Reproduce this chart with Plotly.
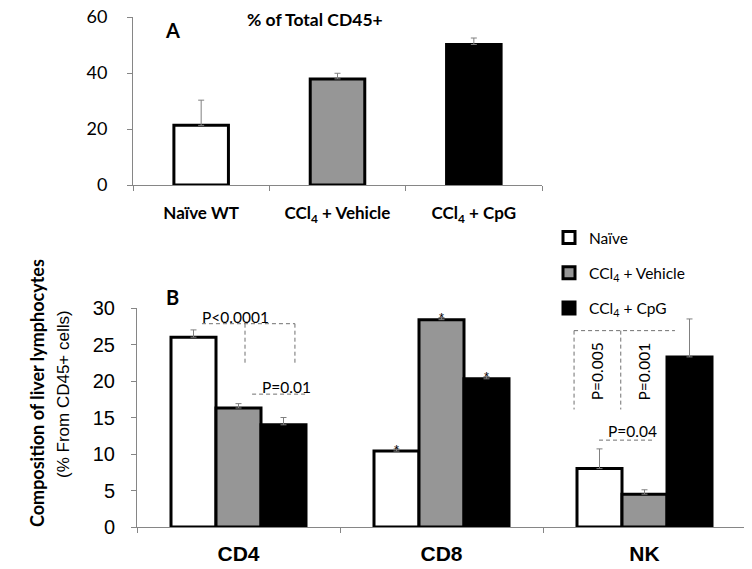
import plotly.graph_objects as go

# ---- Panel A data ----
top_categories = ["Naïve WT", "CCl<sub>4</sub> + Vehicle", "CCl<sub>4</sub> + CpG"]
top_values = [21.3, 37.9, 50.2]
top_err = [9.0, 2.0, 2.3]
top_colors = ["white", "#969696", "black"]

# ---- Panel B data ----
cell_types = ["CD4", "CD8", "NK"]
group_names = ["Naïve", "CCl<sub>4</sub> + Vehicle", "CCl<sub>4</sub> + CpG"]
naive_vals = [26.0, 10.4, 8.0]
vehicle_vals = [16.3, 28.4, 4.5]
cpg_vals = [14.0, 20.3, 23.3]
naive_err = [1.0, 0.3, 2.7]
vehicle_err = [0.6, 0.3, 0.6]
cpg_err = [1.0, 0.3, 5.2]
star_labels = ["", "*", ""]

calibri_like = "Lato"
arial_like = "Liberation Sans"
axis_gray = "#868686"
err_gray = "#808080"
dash_gray = "#707070"

# page body has an 8px margin; figure is sized to fill the rest of the window
W, H, OFF = 744, 561, 8
def fx(px):
    return (px - OFF) / W
def fy(py):
    return 1 - (py - OFF) / H

BARGAP = 0.335

fig = go.Figure()

fig.add_trace(go.Bar(
    x=top_categories, y=top_values, width=0.4,
    marker=dict(color=top_colors, line=dict(color="black", width=3)),
    error_y=dict(type="data", symmetric=False, array=top_err,
                 arrayminus=[0] * len(top_err), color=err_gray, thickness=1, width=3),
    xaxis="x", yaxis="y", showlegend=False, hoverinfo="skip",
))

series = [
    (group_names[0], naive_vals, naive_err, "white"),
    (group_names[1], vehicle_vals, vehicle_err, "#969696"),
    (group_names[2], cpg_vals, cpg_err, "black"),
]
annotations = []
for i, (name, vals, errs, col) in enumerate(series):
    fig.add_trace(go.Bar(
        x=cell_types, y=vals, name=name, legendgroup=f"g{i}",
        marker=dict(color=col, line=dict(color="black", width=3)),
        error_y=dict(type="data", symmetric=False, array=errs,
                     arrayminus=[0] * len(errs), color=err_gray, thickness=1, width=3),
        xaxis="x2", yaxis="y2", hoverinfo="skip",
    ))
    offset = (i - 1) * (1 - BARGAP) / len(series)
    for j, lab in enumerate(star_labels):
        if lab:
            annotations.append(dict(text=lab, x=j + offset, y=vals[j], xref="x2", yref="y2",
                                    showarrow=False, yanchor="middle", yshift=2,
                                    font=dict(family=arial_like, size=13, color="black")))

shapes = []
def dline(x0, y0, x1, y1):
    shapes.append(dict(type="line", xref="x2", yref="y2", x0=x0, y0=y0, x1=x1, y1=y1,
                       line=dict(color=dash_gray, width=1, dash="4px,3px")))

# CD4 significance brackets
dline(-0.18, 27.85, 0.278, 27.85)
dline(0.032, 27.85, 0.032, 22.1)
dline(0.278, 27.85, 0.278, 22.1)
dline(0.067, 18.2, 0.333, 18.2)
# NK significance brackets
dline(1.653, 26.9, 2.15, 26.9)
dline(1.653, 26.9, 1.653, 16.1)
dline(1.883, 26.9, 1.883, 16.1)
dline(1.776, 11.9, 2.042, 11.9)

ann_font = dict(family=calibri_like, size=15.5, color="black")
def pann(text, x, y, size, family, angle=0):
    annotations.append(dict(text=text, x=fx(x), y=fy(y), xref="paper", yref="paper",
                            xanchor="center", yanchor="middle", showarrow=False,
                            textangle=angle, font=dict(family=family, size=size, color="black")))

pann("<b>% of Total CD45+</b>", 315, 20, 17.5, calibri_like)
pann("<b>A</b>", 172, 30, 20, calibri_like)
pann("<b>B</b>", 172, 297, 20, calibri_like)
pann("<b>Composition of liver lymphocytes</b>", 37, 393, 18, calibri_like, -90)
pann("(% From CD45+ cells)", 63, 394, 17, arial_like, -90)

for text, x, y, ang in [
    ("P<0.0001", -0.017, 28.8, 0),
    ("P=0.01", 0.234, 19.2, 0),
    ("<sup>*</sup>P<0.0001", 0.983, 32.2, 0),
    ("P=0.005", 1.765, 21.3, -90),
    ("P=0.001", 1.993, 21.3, -90),
    ("P=0.04", 1.943, 13.1, 0),
]:
    annotations.append(dict(text=text, x=x, y=y, xref="x2", yref="y2", showarrow=False,
                            xanchor="center", yanchor="middle", textangle=ang, font=ann_font))

fig.update_layout(
    template="none",
    width=W, height=H,
    margin=dict(l=0, r=0, t=0, b=0, autoexpand=False),
    paper_bgcolor="white", plot_bgcolor="white",
    barmode="group", bargap=BARGAP, bargroupgap=0,
    showlegend=True,
    legend=dict(x=fx(549), y=fy(221), xanchor="left", yanchor="top",
                font=dict(family=calibri_like, size=15.5, color="black"),
                bgcolor="rgba(0,0,0,0)", tracegroupgap=12, traceorder="grouped"),
    xaxis=dict(domain=[fx(133), fx(542)], anchor="y", showline=True, linecolor=axis_gray,
               linewidth=1, ticks="outside", tickson="boundaries", ticklen=5, tickcolor=axis_gray,
               tickfont=dict(family=calibri_like, size=17, color="black", weight="bold"),
               showgrid=False, automargin=False, ticklabelstandoff=13),
    yaxis=dict(domain=[fy(185), fy(17)], anchor="x", range=[0, 60], dtick=20,
               showline=True, linecolor=axis_gray, linewidth=1, ticks="outside", ticklen=5,
               tickcolor=axis_gray, showgrid=False, zeroline=False, automargin=False,
               ticklabeloverflow="allow",
               tickfont=dict(family=calibri_like, size=18, color="black"), ticklabelstandoff=16),
    xaxis2=dict(domain=[fx(137), fx(746)], anchor="y2", showline=True, linecolor=axis_gray,
                linewidth=1, ticks="outside", tickson="boundaries", ticklen=5, tickcolor=axis_gray,
                tickfont=dict(family=arial_like, size=21, color="black", weight="bold"),
                showgrid=False, automargin=False, ticklabelstandoff=8),
    yaxis2=dict(domain=[fy(527), fy(308)], anchor="x2", range=[0, 30], dtick=5,
                showline=True, linecolor=axis_gray, linewidth=1, ticks="outside", ticklen=5,
                tickcolor=axis_gray, showgrid=False, zeroline=False, automargin=False,
                ticklabeloverflow="allow",
                tickfont=dict(family=arial_like, size=20, color="black"), ticklabelstandoff=12),
    shapes=shapes,
    annotations=annotations,
)

fig.write_html("out.html")
